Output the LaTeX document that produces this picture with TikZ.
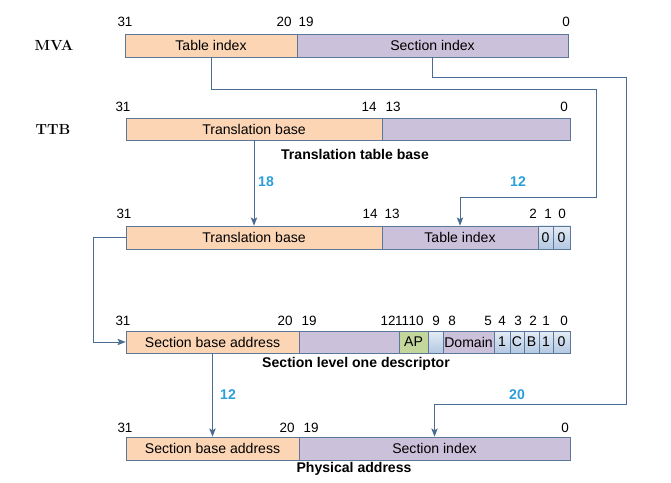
\documentclass[tikz,border=0pt]{standalone}
\usepackage{fontspec}
\setsansfont{Liberation Sans}
\usetikzlibrary{arrows.meta,fit}

\definecolor{peach}{HTML}{FCD5B5}
\definecolor{lilac}{HTML}{CCC1DA}
\definecolor{cellblue}{HTML}{B3C8E2}
\definecolor{apgreen}{HTML}{C3D69B}
\definecolor{edge}{HTML}{5B7898}
\definecolor{wireblue}{HTML}{4A6C93}
\definecolor{widthblue}{HTML}{2B9FDA}

\begin{document}
\begin{tikzpicture}[x=0.03cm, y=-0.03cm, >={Stealth[length=7pt,width=5.5pt,inset=1.5pt]},
	field/.style={draw=edge, fill=#1, line width=0.6pt, inner sep=0pt},
	every label/.style={font=\sffamily\fontsize{12}{14}\selectfont, inner sep=0pt},
	bitcell/.style={field=cellblue, top color=cellblue!35!white, bottom color=cellblue},
	bitno/.style={font=\sffamily\fontsize{11.5}{13}\selectfont, inner sep=0pt},
	caption/.style={font=\sffamily\bfseries\fontsize{12}{14}\selectfont, inner sep=0pt},
	bitwidth/.style={text=widthblue, font=\sffamily\bfseries\fontsize{12}{14}\selectfont, inner sep=0pt},
	regname/.style={font=\bfseries\fontsize{12.5}{15}\selectfont, inner sep=0pt},
	wire/.style={draw=wireblue, line width=0.8pt}]
	
	\useasboundingbox (0,0) rectangle (671,483);
	
	% --- MODIFIED VIRTUAL ADDRESS ---
	\node[regname] (mva) at (54,45) {MVA};
	\node[field=peach, fit={(125,34) (297,57)}, label=center:Table index] (mvaT) {};
	\node[field=lilac, fit={(297,34) (568,57)}, label=center:Section index] (mvaS) {};
	\foreach \x/\b in {125/31, 284/20, 306/19, 566/0}
		\node[bitno] (mvab\b) at (\x,22) {\b};
	
	% --- TRANSLATION TABLE BASE ---
	\node[regname] (ttb) at (53,129) {TTB};
	\node[field=peach, fit={(126,118) (382,140)}, label=center:Translation base] (ttbB) {};
	\node[field=lilac, fit={(382,118) (570,140)}] (ttbR) {};
	\foreach \x/\b in {123/31, 369/14, 393/13, 564/0}
		\node[bitno] (ttbb\b) at (\x,107) {\b};
	\node[caption] (ttbcap) at (355,154) {Translation table base};
	
	% --- ADDRESS OF THE LEVEL ONE ENTRY ---
	\node[field=peach, fit={(126,226) (382,249)}, label=center:Translation base] (l1B) {};
	\node[field=lilac, fit={(382,226) (538,249)}, label=center:Table index] (l1T) {};
	\node[bitcell, fit={(538,226) (553,249)}, label=center:0] (l1z1) {};
	\node[bitcell, fit={(553,226) (570,249)}, label=center:0] (l1z0) {};
	\foreach \x/\b in {124/31, 370/14, 392/13, 533/2, 548/1, 562/0}
		\node[bitno] (l1b\b) at (\x,214) {\b};
	
	% --- SECTION DESCRIPTOR ---
	\node[field=peach, fit={(126,331) (299,353)}, label=center:Section base address] (dB) {};
	\node[field=lilac, fit={(299,331) (399,353)}] (dR) {};
	\node[field=apgreen, fit={(399,331) (428,353)}, label=center:AP] (dAP) {};
	\node[bitcell, fit={(428,331) (443,353)}] (dZ) {};
	\node[field=lilac, fit={(443,331) (494,353)}, label=center:Domain] (dDom) {};
	\foreach \a/\e/\t [count=\i] in {494/510/1, 510/524/C, 524/539/B, 539/553/1, 553/570/0}
		\node[bitcell, fit={(\a,331) (\e,353)}, label=center:\t] (dbit\i) {};
	\foreach \x/\b in {123/31, 285/20, 309/19, 388/12, 402/11, 416/10, 436/9, 452/8, 488/5, 502/4, 518/3, 533/2, 546/1, 564/0}
		\node[bitno] (db\b) at (\x,321) {\b};
	\node[caption] (dcap) at (356,364) {Section level one descriptor};
	
	% --- PHYSICAL ADDRESS ---
	\node[field=peach, fit={(126,437) (299,460)}, label=center:Section base address] (paB) {};
	\node[field=lilac, fit={(299,437) (570,460)}, label=center:Section index] (paS) {};
	\foreach \x/\b in {125/31, 287/20, 311/19, 565/0}
		\node[bitno] (pab\b) at (\x,428) {\b};
	\node[caption] (pacap) at (354,469) {Physical address};
	
	% --- CONNECTORS ---
	\coordinate (t1) at (596,89);
	\coordinate (t2) at (596,197);
	\draw[wire,->] (mvaT.south) |- (t1) -- (t2) -| (l1T.north);
	
	\coordinate (s1) at (626,77);
	\coordinate (s2) at (626,404);
	\draw[wire,->] (mvaS.south) |- (s1) -- (s2) -| (paS.north);
	
	\draw[wire,->] (ttbB.south) -- (l1B.north);
	\draw[wire,->] (l1B.west) -- ++(-32,0) |- (dB.west);
	\draw[wire,->] (dB.south) -- (paB.north);
	
	% --- FIELD WIDTHS ---
	\node[bitwidth] (w18) at (266,182) {18};
	\node[bitwidth] (w12a) at (518,182) {12};
	\node[bitwidth] (w12b) at (228,395) {12};
	\node[bitwidth] (w20) at (517,395) {20};
	
\end{tikzpicture}
\end{document}
